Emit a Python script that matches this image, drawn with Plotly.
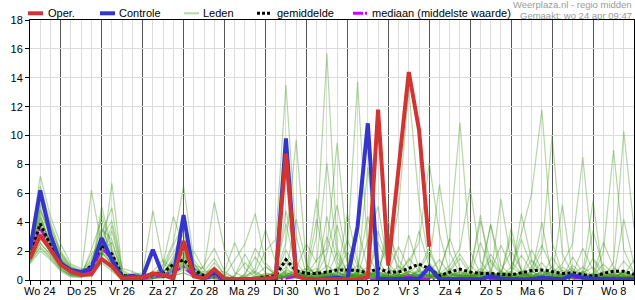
import pandas as pd
import plotly.graph_objects as go

# ---- time axis (6-hourly steps) ----
times = pd.date_range("2024-04-24 06:00", periods=60, freq="6h")
day_dates = pd.date_range("2024-04-24", periods=15, freq="D")
day_labels = ["Wo 24", "Do 25", "Vr 26", "Za 27", "Zo 28", "Ma 29", "Di 30", "Wo 1",
              "Do 2", "Vr 3", "Za 4", "Zo 5", "Ma 6", "Di 7", "Wo 8"]

# ---- series (mm per 6h) ----
oper = [1.5, 3.1, 2.1, 1.05, 0.6, 0.35, 0.4, 1.45, 0.95, 0.1, 0.15, 0.2,
        0.45, 0.35, 0.1, 2.7, 0.25, 0.1, 0.75, 0.1, 0.05, 0.05, 0.05, 0.1,
        0.2, 8.75, 0.3, 0.05, 0.05, 0.05, 0.05, 0.05, 0.05, 0.2, 11.8, 1.0,
        7.5, 14.4, 10.4, 2.3]

controle = [2.1, 6.2, 3.1, 1.15, 0.7, 0.55, 0.8, 2.9, 1.4, 0.15, 0.3, 0.2,
            2.1, 0.3, 0.2, 4.5, 0.35, 0.1, 0.55, 0.05, 0.02, 0.02, 0.02, 0.02,
            0.1, 9.8, 0.3, 0.05, 0.05, 0.1, 0.15, 0.05, 3.7, 10.85, 0.1, 0.05,
            0.05, 0.05, 0.1, 0.9, 0.05, 0.05, 0.05, 0.05, 0.05, 0.25, 0.1, 0.05,
            0.05, 0.05, 0.15, 0.1, 0.05, 0.35, 0.15, 0.1, 0.05, 0.05, 0.05, 0.05]

gemiddelde = [1.7, 3.9, 2.4, 1.2, 0.6, 0.45, 1.0, 2.4, 1.8, 0.3, 0.25, 0.2,
              0.4, 0.5, 1.1, 1.4, 0.7, 0.3, 0.45, 0.1, 0.05, 0.05, 0.1, 0.2,
              0.3, 1.4, 0.65, 0.45, 0.45, 0.55, 0.7, 0.7, 0.65, 0.5, 0.8, 0.55,
              0.55, 0.8, 1.1, 0.8, 0.3, 0.55, 0.75, 0.55, 0.45, 0.45, 0.4, 0.35,
              0.5, 0.65, 0.7, 0.55, 0.45, 0.5, 0.35, 0.25, 0.45, 0.6, 0.6, 0.4]

mediaan = [1.5, 3.6, 2.2, 1.1, 0.5, 0.4, 0.6, 2.2, 1.5, 0.1, 0.1, 0.1,
           0.2, 0.3, 0.6, 0.9, 0.3, 0.1, 0.2, 0.0, 0.0, 0.0, 0.0, 0.0,
           0.05, 0.1, 0.25, 0.05, 0.0, 0.0, 0.05, 0.0, 0.0, 0.0, 0.05, 0.0,
           0.1, 0.2, 0.1, 0.05, 0.0, 0.05, 0.1, 0.05, 0.0, 0.05, 0.0, 0.0,
           0.05, 0.1, 0.15, 0.05, 0.0, 0.1, 0.15, 0.0, 0.05, 0.15, 0.1, 0.0]

leden = [
    [1.6, 4.2, 2.6, 1.3, 0.6, 0.4, 1.2, 2.8, 1.5, 0.2, 0.1, 0.1, 0.3, 0.5, 1.2, 1.8, 0.6, 0.2, 0.4, 0.0, 0.0, 0.0, 0.1, 0.3,
     0.5, 1.2, 0.4, 0.2, 3.1, 15.7, 2.2, 0.5, 0.3, 0.2, 0.6, 0.1, 0.2, 0.5, 1.1, 0.4, 0.0, 0.2, 0.6, 0.3, 0.1, 0.0, 0.4, 3.0,
     0.6, 0.2, 0.1, 0.3, 0.5, 0.2, 0.0, 0.1, 0.4, 0.8, 0.3, 0.1],
    [1.9, 5.1, 3.0, 1.6, 0.8, 0.5, 0.3, 1.6, 3.4, 0.4, 0.2, 0.1, 0.6, 0.2, 0.8, 2.2, 1.1, 0.3, 0.1, 0.0, 0.0, 0.2, 0.5, 2.0,
     2.8, 13.5, 3.0, 0.4, 0.1, 0.3, 0.9, 0.4, 0.2, 0.1, 0.8, 2.4, 0.9, 0.3, 0.1, 0.5, 0.2, 0.7, 1.8, 0.6, 0.2, 0.1, 0.3, 0.1,
     0.2, 0.9, 2.4, 0.8, 0.2, 0.1, 0.3, 0.1, 0.0, 0.2, 0.6, 0.3],
    [1.4, 3.1, 2.0, 0.9, 0.4, 0.3, 2.1, 4.2, 1.0, 0.1, 0.3, 0.2, 0.2, 1.0, 2.6, 6.5, 1.4, 0.5, 0.8, 0.2, 0.0, 0.0, 0.0, 0.1,
     0.2, 0.6, 4.2, 1.1, 0.3, 0.1, 0.4, 2.8, 0.9, 0.2, 0.1, 0.0, 0.3, 1.5, 0.6, 0.2, 0.4, 0.1, 0.0, 0.3, 2.6, 0.7, 0.1, 0.2,
     0.1, 0.4, 0.2, 1.6, 0.5, 0.1, 0.0, 0.3, 1.1, 0.4, 0.1, 0.2],
    [2.2, 6.0, 3.8, 1.8, 0.9, 0.6, 0.4, 2.0, 2.6, 0.5, 0.2, 0.1, 0.4, 0.3, 0.9, 1.4, 0.4, 0.1, 0.3, 0.1, 0.0, 0.0, 0.2, 0.4,
     0.1, 0.3, 0.8, 2.5, 1.2, 8.1, 1.6, 0.3, 0.2, 0.4, 0.1, 0.3, 1.0, 0.4, 0.2, 0.1, 0.6, 2.9, 0.8, 0.2, 0.1, 0.5, 0.3, 0.1,
     0.3, 1.4, 0.6, 0.2, 0.1, 0.4, 2.2, 0.7, 0.2, 0.1, 0.0, 0.1],
    [1.2, 2.6, 1.7, 0.8, 0.3, 0.3, 0.6, 5.1, 2.2, 0.3, 0.1, 0.0, 0.1, 0.4, 1.6, 2.8, 0.9, 0.2, 0.1, 0.0, 0.3, 1.2, 0.4, 0.1,
     0.0, 0.2, 0.5, 0.1, 0.4, 1.8, 5.2, 1.3, 0.4, 7.8, 1.4, 0.2, 0.1, 0.3, 0.6, 1.9, 0.5, 0.1, 0.0, 0.2, 0.8, 0.3, 0.1, 0.6,
     2.8, 0.9, 0.3, 0.1, 0.4, 0.2, 0.1, 0.5, 0.3, 0.1, 0.2, 0.4],
    [1.7, 4.6, 2.3, 1.1, 0.5, 0.4, 0.9, 2.2, 1.3, 0.2, 0.4, 0.5, 4.8, 1.2, 0.5, 0.9, 0.3, 0.1, 0.2, 0.0, 0.1, 0.0, 0.0, 0.2,
     0.3, 0.9, 0.2, 0.1, 0.6, 0.3, 0.2, 1.1, 3.6, 0.8, 0.2, 0.1, 0.4, 0.2, 0.3, 0.6, 1.4, 0.4, 0.1, 0.2, 0.5, 3.8, 1.0, 0.3,
     0.1, 0.2, 0.6, 0.3, 0.9, 0.4, 0.1, 0.2, 0.5, 0.3, 1.3, 0.5],
    [2.0, 5.6, 3.3, 1.5, 0.7, 0.5, 1.5, 3.0, 1.1, 0.2, 0.1, 0.1, 0.5, 0.2, 0.7, 1.1, 0.4, 0.6, 1.5, 0.3, 0.0, 0.0, 0.1, 0.0,
     0.4, 2.6, 9.7, 1.0, 0.3, 0.2, 0.1, 0.4, 1.0, 0.5, 0.2, 0.6, 2.3, 0.8, 0.3, 0.1, 0.2, 0.5, 0.3, 0.1, 0.4, 0.2, 0.6, 2.0,
     0.7, 0.2, 0.1, 0.4, 0.2, 0.1, 0.3, 1.5, 0.6, 0.2, 0.1, 0.2],
    [1.5, 3.4, 2.8, 1.4, 0.6, 0.5, 0.4, 1.3, 6.7, 0.7, 0.3, 0.2, 0.3, 0.6, 0.3, 0.5, 0.2, 0.1, 0.2, 0.1, 0.0, 0.0, 0.3, 0.9,
     0.4, 0.2, 0.5, 0.3, 1.4, 2.2, 9.5, 2.0, 0.4, 0.2, 0.1, 0.3, 0.1, 0.4, 0.2, 0.6, 0.3, 0.1, 0.2, 1.0, 0.4, 0.1, 0.2, 0.3,
     0.5, 0.2, 0.3, 0.9, 0.3, 0.1, 0.2, 0.4, 2.6, 0.9, 0.3, 0.1],
    [1.8, 4.0, 2.1, 1.0, 0.4, 0.3, 0.8, 1.9, 1.2, 0.1, 0.0, 0.1, 0.2, 1.1, 4.4, 2.3, 0.8, 0.2, 0.3, 0.1, 0.0, 0.0, 0.0, 0.1,
     0.2, 0.4, 0.2, 0.6, 0.3, 0.5, 0.2, 4.6, 1.2, 0.3, 0.2, 0.1, 0.0, 0.2, 0.7, 0.3, 0.1, 0.6, 1.5, 0.4, 0.2, 0.1, 0.3, 0.5,
     1.7, 0.6, 0.2, 0.1, 0.3, 0.7, 0.2, 0.1, 0.2, 0.5, 0.3, 1.4],
    [1.3, 2.3, 1.6, 0.7, 0.3, 0.2, 0.5, 3.5, 2.8, 0.3, 0.2, 0.1, 0.4, 0.2, 0.6, 1.0, 2.0, 0.7, 0.2, 0.0, 0.0, 0.1, 0.0, 0.0,
     0.1, 0.5, 0.3, 0.1, 0.4, 1.0, 0.5, 2.0, 13.7, 1.8, 0.4, 0.2, 0.6, 0.3, 0.1, 0.2, 0.5, 0.2, 0.1, 0.6, 0.3, 1.8, 0.6, 0.2,
     0.1, 0.3, 0.5, 0.2, 0.1, 1.6, 0.5, 0.2, 0.1, 0.3, 0.2, 0.1],
    [2.4, 7.2, 4.4, 2.5, 1.1, 0.8, 0.5, 1.8, 1.6, 0.3, 0.5, 0.3, 0.2, 0.4, 0.5, 0.8, 0.3, 0.2, 0.5, 0.2, 0.1, 0.0, 0.0, 0.0,
     0.0, 0.2, 0.4, 0.2, 0.1, 0.3, 0.5, 0.2, 0.6, 0.4, 2.6, 1.0, 4.9, 13.2, 5.4, 1.2, 0.3, 0.1, 0.2, 0.4, 0.1, 0.3, 0.2, 0.1,
     0.3, 0.6, 0.2, 0.1, 0.2, 0.4, 0.9, 0.3, 0.1, 0.2, 0.5, 0.2],
    [1.6, 3.7, 2.5, 1.2, 0.5, 0.4, 6.2, 2.4, 0.9, 0.2, 0.1, 0.1, 0.1, 0.3, 0.9, 1.6, 1.0, 0.8, 5.4, 2.1, 0.5, 0.2, 0.1, 0.0,
     0.0, 0.3, 0.2, 0.5, 0.8, 0.2, 0.1, 0.3, 0.2, 0.6, 0.2, 0.1, 0.3, 0.6, 3.4, 0.9, 0.2, 0.1, 0.4, 0.2, 0.6, 0.3, 0.2, 0.9,
     0.4, 0.1, 0.3, 0.6, 0.2, 1.0, 0.4, 0.1, 0.3, 0.2, 4.2, 1.1],
    [1.1, 2.0, 1.4, 0.6, 0.2, 0.2, 0.3, 1.2, 0.6, 0.0, 0.1, 0.0, 0.1, 0.2, 0.3, 0.5, 0.2, 0.0, 0.1, 0.0, 0.0, 0.4, 1.6, 0.5,
     0.2, 0.1, 0.6, 0.3, 0.2, 0.4, 0.3, 0.1, 0.5, 0.9, 0.4, 0.2, 0.6, 1.3, 2.6, 8.1, 3.2, 0.5, 0.2, 0.1, 0.3, 0.5, 0.2, 0.4,
     0.2, 0.5, 1.2, 0.3, 0.1, 0.2, 0.6, 0.3, 0.1, 0.4, 0.2, 0.3],
    [2.1, 5.3, 3.6, 1.9, 0.9, 0.6, 0.7, 2.5, 1.8, 0.3, 0.2, 0.2, 0.5, 0.8, 1.9, 3.2, 0.7, 0.3, 1.2, 0.4, 0.2, 0.0, 0.0, 0.2,
     0.3, 4.8, 1.3, 0.2, 0.1, 0.4, 0.3, 0.2, 0.4, 0.3, 0.1, 0.4, 0.2, 0.4, 0.3, 1.1, 6.6, 1.9, 0.4, 0.2, 0.1, 0.4, 0.2, 0.1,
     0.3, 2.1, 0.7, 0.2, 0.1, 0.3, 0.2, 0.1, 0.6, 0.2, 0.1, 0.3],
    [1.5, 3.0, 1.9, 0.9, 0.4, 0.3, 0.4, 2.9, 4.1, 0.8, 0.6, 0.3, 0.2, 0.1, 0.4, 0.7, 0.3, 0.2, 0.1, 0.3, 1.4, 2.5, 4.6, 1.2,
     0.4, 0.2, 0.1, 0.3, 0.6, 0.3, 1.9, 0.5, 0.2, 0.1, 0.3, 0.8, 0.3, 0.1, 0.2, 0.4, 0.2, 0.8, 0.3, 0.5, 4.1, 1.2, 0.4, 0.2,
     0.6, 0.2, 0.1, 0.2, 0.7, 0.3, 0.1, 0.2, 0.4, 0.1, 0.3, 0.2],
    [1.9, 4.9, 2.9, 1.4, 0.7, 0.5, 1.0, 2.3, 1.4, 0.2, 0.1, 0.0, 0.3, 0.2, 1.0, 1.9, 0.5, 0.2, 0.6, 0.1, 0.0, 0.0, 0.0, 0.1,
     0.2, 0.5, 0.3, 0.8, 0.4, 0.2, 0.5, 0.3, 0.1, 0.4, 0.2, 0.3, 0.1, 0.2, 0.5, 0.3, 0.6, 2.8, 10.9, 2.0, 0.4, 0.2, 0.6, 0.3,
     0.2, 0.4, 0.3, 0.1, 0.5, 0.8, 0.3, 0.2, 0.1, 0.6, 0.4, 0.1],
    [1.3, 2.8, 2.2, 1.1, 0.5, 0.3, 0.6, 1.5, 0.8, 0.1, 0.2, 0.1, 0.6, 1.4, 0.7, 1.3, 0.4, 0.2, 0.3, 0.0, 0.0, 0.2, 0.8, 3.5,
     1.2, 0.4, 0.2, 0.1, 0.3, 0.6, 0.2, 0.5, 0.3, 0.2, 3.4, 1.1, 0.4, 0.3, 0.2, 0.1, 0.4, 1.0, 2.2, 6.4, 1.3, 0.3, 0.2, 0.5,
     0.1, 0.2, 0.4, 0.2, 0.3, 0.1, 0.5, 0.9, 0.2, 0.1, 0.3, 0.2],
    [2.3, 6.5, 4.0, 2.0, 1.0, 0.7, 0.9, 2.0, 1.7, 0.4, 0.3, 0.2, 0.3, 0.5, 1.4, 2.6, 0.9, 0.4, 0.2, 0.1, 0.0, 0.0, 0.1, 0.0,
     0.1, 0.7, 0.4, 0.2, 0.5, 0.3, 0.2, 0.6, 0.3, 0.2, 0.1, 0.5, 0.2, 0.4, 0.1, 0.3, 0.2, 0.4, 0.3, 0.1, 0.5, 0.6, 2.4, 0.8,
     3.2, 6.0, 11.8, 2.6, 0.5, 0.2, 0.3, 0.1, 0.2, 0.4, 0.2, 0.1],
    [1.7, 3.9, 2.4, 1.2, 0.6, 0.4, 0.3, 4.6, 2.0, 0.2, 0.1, 0.1, 0.2, 0.3, 0.6, 1.2, 0.3, 1.0, 2.2, 0.6, 0.1, 0.0, 0.2, 0.3,
     0.5, 3.9, 0.8, 0.2, 0.1, 0.3, 0.6, 0.2, 0.4, 0.3, 0.5, 0.2, 0.3, 0.1, 0.4, 0.2, 0.3, 0.5, 0.2, 0.4, 0.3, 0.2, 0.4, 0.6,
     0.3, 0.5, 2.0, 10.0, 1.8, 0.4, 0.2, 0.1, 0.3, 0.2, 0.5, 0.4],
    [1.4, 2.5, 1.8, 0.8, 0.3, 0.3, 0.5, 3.2, 5.0, 0.6, 0.2, 0.1, 0.1, 0.2, 0.4, 0.9, 0.6, 0.1, 0.2, 0.0, 0.3, 1.8, 0.5, 0.2,
     0.1, 0.2, 0.4, 0.3, 0.6, 0.2, 0.4, 0.3, 0.8, 4.4, 0.9, 0.3, 0.2, 0.6, 0.3, 0.2, 0.1, 0.3, 0.5, 0.2, 0.6, 0.3, 0.1, 0.2,
     0.4, 0.2, 0.3, 0.5, 1.1, 2.5, 8.5, 1.4, 0.3, 0.2, 0.1, 0.3],
    [2.0, 4.4, 2.7, 1.3, 0.6, 0.5, 1.8, 2.6, 1.2, 0.1, 0.0, 0.1, 0.4, 0.6, 1.1, 1.5, 0.3, 0.2, 0.4, 0.1, 0.0, 0.0, 0.0, 0.2,
     0.6, 1.5, 0.5, 0.2, 0.4, 3.0, 0.9, 0.3, 0.2, 0.5, 0.2, 0.1, 0.4, 0.2, 0.6, 0.3, 0.2, 0.1, 0.3, 0.2, 0.4, 1.4, 0.5, 0.2,
     0.1, 0.3, 0.2, 0.6, 0.2, 0.1, 0.4, 0.3, 1.9, 9.0, 2.1, 0.5],
    [1.6, 3.3, 2.0, 1.0, 0.5, 0.4, 0.6, 1.7, 3.8, 0.4, 0.3, 0.2, 0.3, 0.2, 0.8, 1.0, 0.5, 0.3, 0.9, 0.2, 0.0, 0.3, 0.6, 0.2,
     0.1, 0.3, 0.2, 0.4, 4.2, 0.6, 0.3, 0.2, 0.5, 0.2, 0.6, 0.3, 0.1, 0.3, 0.2, 0.4, 0.2, 0.6, 0.3, 0.2, 0.1, 3.9, 0.2, 0.3,
     0.5, 0.2, 0.1, 0.3, 0.4, 0.2, 0.1, 0.3, 0.2, 1.2, 10.3, 3.6],
    [1.8, 4.8, 3.1, 1.5, 0.7, 0.5, 0.4, 2.1, 1.5, 0.3, 0.2, 0.1, 0.2, 0.3, 0.5, 1.0, 0.4, 0.2, 0.3, 0.1, 0.0, 0.0, 0.0, 0.1,
     0.2, 0.4, 0.6, 0.2, 0.3, 4.4, 1.2, 0.4, 0.3, 0.1, 0.2, 0.5, 0.3, 0.2, 0.8, 2.2, 0.5, 0.2, 0.1, 0.3, 0.6, 0.2, 5.6, 1.3,
     0.4, 0.2, 0.3, 0.1, 0.2, 0.6, 0.3, 0.2, 0.1, 0.3, 0.2, 0.1],
    [1.2, 2.2, 1.5, 0.7, 0.3, 0.2, 0.5, 1.4, 0.7, 0.1, 0.0, 0.0, 0.1, 0.3, 1.0, 2.0, 0.5, 0.1, 0.6, 0.2, 0.0, 0.0, 0.1, 0.5,
     0.3, 0.6, 0.2, 0.1, 0.2, 0.3, 0.2, 0.4, 0.2, 2.8, 5.1, 0.9, 0.2, 0.3, 0.1, 0.2, 0.4, 0.2, 0.3, 0.1, 0.2, 0.5, 0.3, 0.2,
     4.6, 1.3, 0.4, 0.2, 0.1, 0.3, 0.2, 0.4, 0.3, 0.1, 0.6, 0.2],
    [2.1, 5.8, 3.4, 1.7, 0.8, 0.6, 1.3, 3.6, 1.9, 0.3, 0.1, 0.1, 0.3, 0.4, 0.7, 1.2, 0.6, 0.3, 0.2, 0.0, 0.0, 0.0, 0.2, 0.1,
     0.2, 0.3, 0.5, 0.8, 0.4, 0.2, 0.6, 0.3, 0.2, 0.5, 0.3, 3.3, 1.4, 0.4, 0.2, 0.3, 0.5, 0.2, 0.1, 0.3, 0.2, 0.4, 0.2, 0.1,
     0.3, 0.2, 0.6, 0.4, 0.2, 0.1, 0.3, 3.4, 0.8, 0.3, 0.2, 0.4],
    [1.5, 3.6, 2.3, 1.1, 0.5, 0.4, 0.7, 1.9, 1.1, 0.2, 0.1, 0.2, 0.2, 0.7, 2.4, 3.9, 1.2, 0.2, 0.5, 0.6, 2.6, 0.8, 0.2, 0.3,
     0.1, 0.2, 0.3, 0.6, 5.6, 0.4, 0.2, 0.1, 0.3, 0.6, 0.3, 0.2, 0.5, 3.1, 0.8, 0.2, 0.1, 0.4, 0.2, 0.3, 0.1, 0.2, 0.3, 0.5,
     0.2, 0.4, 4.0, 0.2, 0.3, 0.4, 0.2, 0.1, 0.5, 0.3, 0.1, 0.2],
    [1.9, 4.3, 2.5, 1.2, 0.6, 0.4, 0.9, 2.7, 1.4, 0.2, 0.1, 0.0, 0.5, 0.3, 0.6, 1.7, 0.4, 0.2, 0.3, 0.1, 0.0, 0.4, 2.2, 1.0,
     0.3, 2.1, 0.6, 0.3, 0.2, 0.5, 0.3, 0.2, 0.6, 0.3, 0.2, 4.2, 0.2, 0.6, 0.3, 0.1, 0.2, 0.3, 0.6, 0.2, 0.3, 0.1, 0.2, 3.6,
     0.6, 0.3, 0.2, 0.1, 0.4, 0.2, 0.5, 5.5, 0.1, 0.4, 0.3, 0.2],
    [1.7, 3.8, 2.6, 1.3, 0.6, 0.5, 0.8, 2.4, 1.6, 0.2, 0.2, 0.1, 0.3, 0.6, 1.3, 2.1, 0.8, 0.3, 0.4, 0.1, 0.0, 0.0, 0.1, 0.0,
     0.1, 0.3, 0.2, 0.4, 0.2, 0.6, 3.8, 1.2, 0.2, 0.4, 0.6, 0.2, 0.3, 0.2, 0.4, 0.2, 0.3, 0.2, 0.4, 0.6, 4.5, 0.2, 0.1, 0.3,
     0.2, 0.6, 0.3, 0.2, 5.2, 0.3, 0.2, 0.4, 0.3, 0.2, 0.4, 0.3],
]

RED = "#d23434"
BLUE = "#3535cc"
MAGENTA = "#cc00ff"
MEMBER = "rgba(60,150,20,0.38)"
FONT = "Liberation Sans, Arial, sans-serif"

fig = go.Figure()
for m in leden:
    fig.add_trace(go.Scatter(x=times[:len(m)], y=m, mode="lines",
                             line=dict(color=MEMBER, width=1.2), hoverinfo="skip"))
fig.add_trace(go.Scatter(x=times, y=mediaan, mode="lines",
                         line=dict(color=MAGENTA, width=2.5, dash="9px,3px,2px,3px")))
fig.add_trace(go.Scatter(x=times, y=gemiddelde, mode="lines",
                         line=dict(color="black", width=3, dash="3px,2.5px")))
fig.add_trace(go.Scatter(x=times[:len(controle)], y=controle, mode="lines",
                         line=dict(color=BLUE, width=4)))
fig.add_trace(go.Scatter(x=times[:len(oper)], y=oper, mode="lines",
                         line=dict(color=RED, width=4)))

# plot area in pixels: x 30..634, y 20..280
L, R, T, B = 30, 634, 20, 280
def px(x):
    return (x - L) / (R - L)
def py(y):
    return (B - y) / (B - T)

shapes = []
annotations = []
legend_items = [
    (28, 43, RED, 4, "solid", 47, "Oper."),
    (100, 115, BLUE, 4, "solid", 118, "Controle"),
    (184, 199, "#b5d9a5", 2, "solid", 202, "Leden"),
    (257, 272, "black", 3, "3px,2px", 276, "gemiddelde"),
    (353, 368, MAGENTA, 3, "10px,2px,2px,2px", 371, "mediaan (middelste waarde)"),
]
for x0, x1, col, w, dash, tx, label in legend_items:
    shapes.append(dict(type="line", xref="paper", yref="paper",
                       x0=px(x0), x1=px(x1), y0=py(13.3), y1=py(13.3),
                       line=dict(color=col, width=w, dash=dash)))
    annotations.append(dict(text=label, xref="paper", yref="paper", x=px(tx), y=py(13),
                            xanchor="left", yanchor="middle", showarrow=False,
                            font=dict(family=FONT, size=11, color="black"), borderpad=0))

annotations.append(dict(text="Weerplaza.nl - regio midden", xref="paper", yref="paper",
                        x=px(633), y=py(5), xanchor="right", yanchor="middle", showarrow=False,
                        font=dict(family=FONT, size=9.5, color="#9a9a9a"), borderpad=0))
annotations.append(dict(text="Gemaakt: wo 24 apr 09:47", xref="paper", yref="paper",
                        x=px(633), y=py(15), xanchor="right", yanchor="middle", showarrow=False,
                        font=dict(family=FONT, size=9.5, color="#9a9a9a"), borderpad=0))

for d, lab in zip(day_dates, day_labels):
    annotations.append(dict(text=lab, x=d + pd.Timedelta(hours=12), xref="x",
                            y=0, yref="paper", yanchor="top", xanchor="center", yshift=-4,
                            showarrow=False, font=dict(family=FONT, size=11, color="black"),
                            borderpad=0))

fig.update_layout(
    width=635, height=300,
    margin=dict(l=L, r=635 - R, t=T, b=300 - B),
    paper_bgcolor="white", plot_bgcolor="white",
    showlegend=False, hovermode=False,
    shapes=shapes, annotations=annotations,
    font=dict(family=FONT, size=11, color="black"),
)
fig.update_xaxes(
    type="date",
    range=[pd.Timestamp("2024-04-24 06:00"), pd.Timestamp("2024-05-09 00:00")],
    tickvals=list(day_dates[1:]), ticktext=[""] * 14, showticklabels=False,
    showgrid=True, gridcolor="#555555", gridwidth=1,
    ticks="outside", ticklen=4, tickcolor="black",
    minor=dict(dtick=6 * 3600 * 1000, tick0="2024-04-24", ticks="outside", ticklen=4,
               tickcolor="black", showgrid=True, gridcolor="#dcdcdc", gridwidth=1),
    showline=True, linecolor="black", linewidth=1, mirror=True, zeroline=False,
)
fig.update_yaxes(
    range=[0, 18], dtick=2, tick0=0,
    showgrid=True, gridcolor="#dcdcdc", gridwidth=1,
    ticks="outside", ticklen=4, tickcolor="black",
    tickfont=dict(family=FONT, size=11, color="black"),
    showline=True, linecolor="black", linewidth=1, mirror=True, zeroline=False,
)

fig.write_html("out.html")
